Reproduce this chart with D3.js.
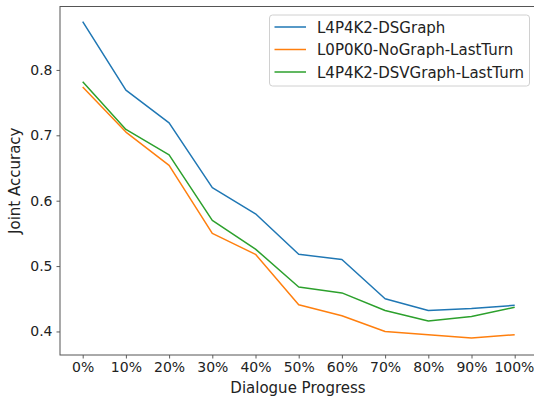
<!DOCTYPE html>
<html><head><meta charset="utf-8">
<script src="https://cdn.jsdelivr.net/npm/d3@7"></script>
<style>body{margin:0;background:#fff}svg{display:block;font-family:"DejaVu Sans",sans-serif}</style>
</head><body><svg id="c" width="534" height="399"></svg>
<script>
const categories = ["0%","10%","20%","30%","40%","50%","60%","70%","80%","90%","100%"];
const seriesNames = ["L4P4K2-DSGraph","L0P0K0-NoGraph-LastTurn","L4P4K2-DSVGraph-LastTurn"];
const dsGraph   = [0.874,0.769,0.719,0.620,0.580,0.518,0.510,0.450,0.432,0.435,0.440];
const noGraph   = [0.774,0.705,0.654,0.550,0.518,0.441,0.424,0.400,0.395,0.390,0.395];
const dsvGraph  = [0.782,0.709,0.670,0.570,0.526,0.468,0.459,0.432,0.416,0.423,0.437];
const yTicks = [0.4,0.5,0.6,0.7,0.8];
const colors = ["#1f77b4","#ff7f0e","#2ca02c"];
const series = [dsGraph, noGraph, dsvGraph];

const svg = d3.select("#c");
const L = 60, T = 6.5, B = 355, R = 536.3;
const FS = 15, TFS = 14;
const x = d3.scalePoint().domain(categories).range([82.7, 514.7]);
const y = d3.scaleLinear().domain([0.364, 0.897]).range([B, T]);

const xa = svg.append("g").attr("transform",`translate(0,${B})`)
  .call(d3.axisBottom(x).tickSize(3.5).tickPadding(4));
const ya = svg.append("g").attr("transform",`translate(${L},0)`)
  .call(d3.axisLeft(y).tickValues(yTicks).tickFormat(d3.format(".1f")).tickSize(3.5).tickPadding(4));
[xa,ya].forEach(a=>{
  a.select(".domain").remove();
  a.selectAll("line").attr("stroke","#333").attr("stroke-width",0.8);
  a.selectAll("text").attr("font-size",TFS).attr("fill","#222").attr("font-family","DejaVu Sans");
});
xa.selectAll("text").filter(d=>d==="100%").attr("dx",-0.8);
svg.append("rect").attr("x",L).attr("y",T).attr("width",R-L).attr("height",B-T)
  .attr("fill","none").attr("stroke","#555").attr("stroke-width",1);

const line = d3.line().x((d,i)=>x(categories[i])).y(d=>y(d));
series.forEach((s,k)=>{
  svg.append("path").datum(s).attr("d",line).attr("fill","none")
    .attr("stroke",colors[k]).attr("stroke-width",1.5).attr("stroke-linejoin","round");
});

svg.append("text").attr("x",298).attr("y",393).attr("text-anchor","middle")
  .attr("font-size",FS).attr("fill","#222").text("Dialogue Progress");
svg.append("text").attr("transform",`translate(20,${(T+B)/2}) rotate(-90)`).attr("text-anchor","middle")
  .attr("font-size",FS).attr("fill","#222").text("Joint Accuracy");

const lg = svg.append("g");
lg.append("rect").attr("x",269.5).attr("y",15).attr("width",260).attr("height",71).attr("rx",3)
  .attr("fill","#fff").attr("fill-opacity",0.8).attr("stroke","#d0d0d0").attr("stroke-width",1);
seriesNames.forEach((n,k)=>{
  const cy = 27 + k*22.5;
  lg.append("line").attr("x1",274.5).attr("x2",306).attr("y1",cy).attr("y2",cy)
    .attr("stroke",colors[k]).attr("stroke-width",1.5);
  lg.append("text").attr("x",317).attr("y",cy+5.5).attr("font-size",FS).attr("fill","#222").text(n);
});
</script></body></html>
